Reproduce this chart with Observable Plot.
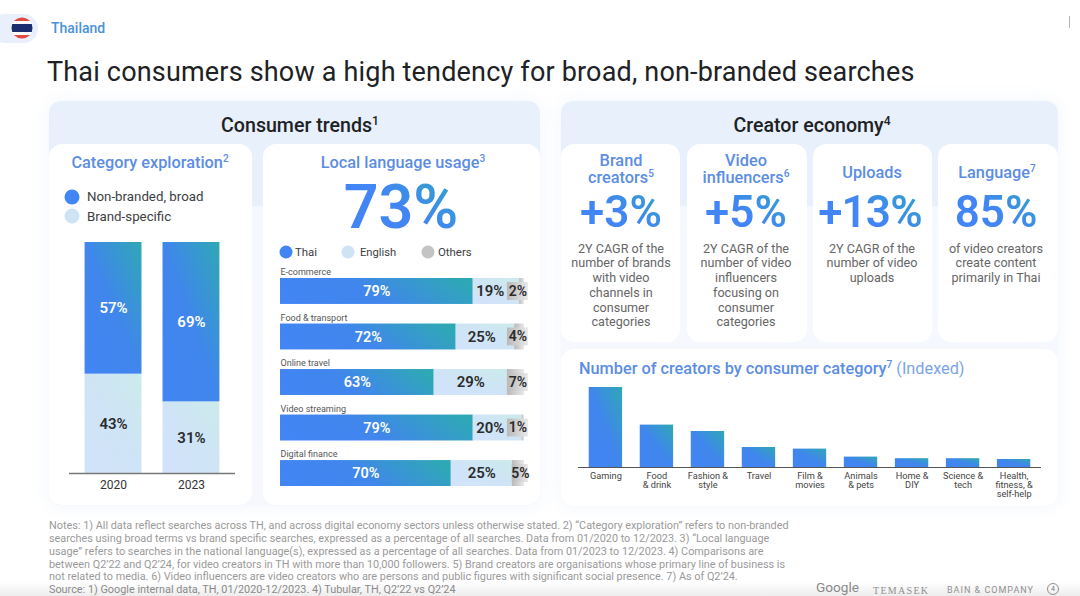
<!DOCTYPE html>
<html lang="en">
<head>
<meta charset="utf-8">
<script src="https://cdn.jsdelivr.net/npm/d3@7"></script>
<script src="https://cdn.jsdelivr.net/npm/@observablehq/plot@0.6"></script>
<style>
html,body{margin:0;padding:0;background:#fff;width:1080px;height:596px;overflow:hidden;font-family:Roboto,sans-serif;}
#page{position:relative;width:1080px;height:596px;overflow:hidden;}
.abs{position:absolute;}
.t{position:absolute;transform:translate(-50%,-50%);white-space:nowrap;text-align:center;}
.l{position:absolute;transform:translateY(-50%);white-space:nowrap;}
.panel{position:absolute;border-radius:12px;background:linear-gradient(#e8f0fc 0,#e8f0fc 105px,#f5f8fe 105px,#f6f8fe 100%);box-shadow:0 0 18px rgba(232,238,250,.6);}
.card{position:absolute;background:#fff;border-radius:13px;}
.h1{font-size:19.6px;font-weight:500;color:#202124;}
.h2{font-size:16.3px;font-weight:500;color:#5b8de3;line-height:17px;}
.big{font-weight:600;background:linear-gradient(35deg,#4285f4 0,#4285f4 50%,#2ea8c2 100%);-webkit-background-clip:text;background-clip:text;color:transparent;}
.body{font-size:12.6px;color:#666;line-height:14.8px;position:absolute;transform:translateX(-50%);text-align:center;white-space:nowrap;top:241.5px;}
sup{font-size:.62em;line-height:0;vertical-align:.55em;}
.dot{position:absolute;border-radius:50%;transform:translate(-50%,-50%);}
.leg{font-size:13.3px;color:#3c4043;}
.note{position:absolute;left:49px;font-size:10.85px;color:#9a9a9a;white-space:nowrap;transform:translateY(-50%);}
.chart{position:absolute;}
</style>
</head>
<body>
<div id="page">
  <svg class="abs" width="0" height="0" style="left:0;top:0">
    <defs>
      <linearGradient id="gBlue" x1="0" y1="1" x2="1" y2="0">
        <stop offset="0" stop-color="#4285f4"/><stop offset=".5" stop-color="#4086ec"/><stop offset="1" stop-color="#2fa8b6"/>
      </linearGradient>
      <linearGradient id="gBlueH" x1="0" y1=".6" x2="1" y2=".4">
        <stop offset="0" stop-color="#4285f4"/><stop offset=".45" stop-color="#4086ec"/><stop offset="1" stop-color="#2fa8b6"/>
      </linearGradient>
      <linearGradient id="gLight" x1="0" y1="1" x2="1" y2="0">
        <stop offset="0" stop-color="#d2e3fc"/><stop offset=".5" stop-color="#cfe4f6"/><stop offset="1" stop-color="#cbebec"/>
      </linearGradient>
      <linearGradient id="gGray" x1="0" y1="0" x2="1" y2="0">
        <stop offset="0" stop-color="#b9b9b9"/><stop offset="1" stop-color="#e9e9e9"/>
      </linearGradient>
    </defs>
  </svg>

  <div class="abs" style="left:-10px;top:14px;width:48px;height:29px;border-radius:15px;background:#e9f0fc"></div>
  <div class="dot" style="left:22px;top:28px;width:21px;height:21px;background:linear-gradient(#e2493f 0 17%,#fff 17% 33%,#1b2d6e 33% 67%,#fff 67% 83%,#e2493f 83%)"></div>
  <div class="l" style="left:51px;top:28px;font-size:14px;font-weight:500;color:#4a92d8">Thailand</div>
  <div class="abs" style="left:1069px;top:16px;width:1px;height:12px;background:#b5b5b5"></div>

  <div class="l" id="title" style="left:47px;top:72px;font-size:27px;letter-spacing:.18px;color:#202124">Thai consumers show a high tendency for broad, non-branded searches</div>

  <div class="panel" style="left:49px;top:101px;width:491px;height:405px"></div>
  <div class="panel" style="left:561px;top:101px;width:497px;height:405px"></div>

  <div class="t h1" style="left:300px;top:125px">Consumer trends<sup>1</sup></div>
  <div class="t h1" style="left:812px;top:125px">Creator economy<sup>4</sup></div>

  <div class="card" style="left:49px;top:144px;width:203px;height:361px"></div>
  <div class="card" style="left:263px;top:144px;width:277px;height:361px"></div>
  <div class="card" style="left:561px;top:144px;width:119px;height:198px"></div>
  <div class="card" style="left:687px;top:144px;width:120px;height:198px"></div>
  <div class="card" style="left:813px;top:144px;width:119px;height:198px"></div>
  <div class="card" style="left:938px;top:144px;width:120px;height:198px"></div>
  <div class="card" style="left:561px;top:349px;width:497px;height:157px"></div>

  <div class="t h2" style="left:150px;top:162px">Category exploration<sup>2</sup></div>
  <div class="dot" style="left:72px;top:197px;width:15px;height:15px;background:#4285f4"></div>
  <div class="l leg" style="left:87px;top:196px">Non-branded, broad</div>
  <div class="dot" style="left:72px;top:216px;width:15px;height:15px;background:#cfe3f6"></div>
  <div class="l leg" style="left:87px;top:216px">Brand-specific</div>

  <div class="t h2" style="left:403px;top:162px">Local language usage<sup>3</sup></div>
  <div class="t big" style="left:401px;top:207px;font-size:61px;line-height:66px">73%</div>
  <div class="dot" style="left:286px;top:252px;width:13px;height:13px;background:#4285f4"></div>
  <div class="l leg" style="left:295px;top:252px;font-size:11.4px">Thai</div>
  <div class="dot" style="left:348px;top:252px;width:13px;height:13px;background:#cfe3f6"></div>
  <div class="l leg" style="left:360px;top:252px;font-size:11.2px">English</div>
  <div class="dot" style="left:428px;top:252px;width:13px;height:13px;background:#c4c4c4"></div>
  <div class="l leg" style="left:438px;top:252px;font-size:11.4px">Others</div>

  <div class="t h2" style="left:621px;top:169px">Brand<br>creators<sup>5</sup></div>
  <div class="t big" style="left:621px;top:212px;font-size:44px;line-height:50px">+3%</div>
  <div class="body" style="left:621px">2Y CAGR of the<br>number of brands<br>with video<br>channels in<br>consumer<br>categories</div>

  <div class="t h2" style="left:746px;top:169px">Video<br>influencers<sup>6</sup></div>
  <div class="t big" style="left:746px;top:212px;font-size:44px;line-height:50px">+5%</div>
  <div class="body" style="left:746px">2Y CAGR of the<br>number of video<br>influencers<br>focusing on<br>consumer<br>categories</div>

  <div class="t h2" style="left:872px;top:172px">Uploads</div>
  <div class="t big" style="left:870px;top:212px;font-size:44px;line-height:50px;letter-spacing:-.8px">+13%</div>
  <div class="body" style="left:872px">2Y CAGR of the<br>number of video<br>uploads</div>

  <div class="t h2" style="left:997px;top:172px">Language<sup>7</sup></div>
  <div class="t big" style="left:996px;top:212px;font-size:44px;line-height:50px">85%</div>
  <div class="body" style="left:996px">of video creators<br>create content<br>primarily in Thai</div>

  <div class="l h2" style="left:579px;top:368px">Number of creators by consumer category<sup>7</sup> <span style="font-weight:400;color:#7ba4e8">(Indexed)</span></div>

  <div class="chart" id="c1" style="left:61px;top:230px"></div>
  <div class="chart" id="c2" style="left:270px;top:262px"></div>
  <div class="chart" id="c3" style="left:570px;top:380px"></div>

  <div class="abs" style="left:0;top:582px;width:1080px;height:14px;background:linear-gradient(rgba(238,238,238,0),#ededed)"></div>

  <div class="note" style="top:525px">Notes: 1) All data reflect searches across TH, and across digital economy sectors unless otherwise stated. 2) “Category exploration” refers to non-branded</div>
  <div class="note" style="top:538px">searches using broad terms vs brand specific searches, expressed as a percentage of all searches. Data from 01/2020 to 12/2023. 3) “Local language</div>
  <div class="note" style="top:551px">usage” refers to searches in the national language(s), expressed as a percentage of all searches. Data from 01/2023 to 12/2023. 4) Comparisons are</div>
  <div class="note" style="top:563.5px">between Q2’22 and Q2’24, for video creators in TH with more than 10,000 followers. 5) Brand creators are organisations whose primary line of business is</div>
  <div class="note" style="top:576px">not related to media. 6) Video influencers are video creators who are persons and public figures with significant social presence. 7) As of Q2’24.</div>
  <div class="note" style="top:589px;color:#8a8a8a">Source: 1) Google internal data, TH, 01/2020-12/2023. 4) Tubular, TH, Q2’22 vs Q2’24</div>

  <div class="l" style="left:816px;top:587px;font-size:13.6px;color:#8a8a8a">Google</div>
  <div class="l" style="left:873px;top:590px;font-size:10px;letter-spacing:1.3px;color:#8f8f8f;font-family:'Liberation Serif',serif">TEMASEK</div>
  <div class="l" style="left:947px;top:590px;font-size:9px;letter-spacing:1px;color:#8f8f8f">BAIN &amp; COMPANY</div>
  <div class="t" style="left:1053px;top:589px;font-size:7px;width:10px;height:10px;line-height:10px;border:1px solid #8f8f8f;border-radius:50%;color:#777">4</div>
</div>

<script>
// Category exploration
const years = ["2020", "2023"];
const nonBranded = [57, 69];
const brandSpecific = [43, 31];

// Local language usage
const languageCategories = ["E-commerce", "Food & transport", "Online travel", "Video streaming", "Digital finance"];
const thai = [79, 72, 63, 79, 70];
const english = [19, 25, 29, 20, 25];
const others = [2, 4, 7, 1, 5];

// Number of creators by consumer category (indexed)
const creatorCategories = ["Gaming", "Food\n& drink", "Fashion &\nstyle", "Travel", "Film &\nmovies", "Animals\n& pets", "Home &\nDIY", "Science &\ntech", "Health,\nfitness, &\nself-help"];
const creatorIndex = [100, 53, 45, 25, 23, 13, 11, 11, 10];

const font = {background: "transparent", fontFamily: "Roboto, sans-serif", overflow: "visible"};
const pct = v => v + "%";

// Stacked columns
const exploration = years.map((year, i) => ({year, brand: brandSpecific[i], non: nonBranded[i]}));
document.getElementById("c1").append(Plot.plot({
  width: 182, height: 270, marginLeft: 8, marginRight: 8, marginTop: 12, marginBottom: 27, style: font,
  x: {domain: years, paddingInner: 0.27, paddingOuter: 0.2, round: false, label: null},
  y: {domain: [0, 100], axis: null},
  marks: [
    Plot.barY(exploration, {x: "year", y1: 0, y2: "brand", fill: "url(#gLight)"}),
    Plot.barY(exploration, {x: "year", y1: "brand", y2: d => d.brand + d.non, fill: "url(#gBlue)"}),
    Plot.text(exploration, {x: "year", y: d => d.brand / 2, text: d => pct(d.brand), fill: "#2b2b2b", fontSize: 15, fontWeight: 600}),
    Plot.text(exploration, {x: "year", y: d => d.brand + d.non / 2, text: d => pct(d.non), fill: "white", fontSize: 15, fontWeight: 600}),
    Plot.ruleY([0], {stroke: "#777", strokeWidth: 1.6}),
    Plot.axisX({tickSize: 0, tickPadding: 7, fontSize: 12, fill: "#333", label: null})
  ]
}));

// Stacked rows
const language = languageCategories.map((cat, i) => ({cat, thai: thai[i], english: english[i], others: others[i]}));
const boxStart = d => d.cat === "Digital finance" ? 95 : 93;
document.getElementById("c2").append(Plot.plot({
  width: 270, height: 232, marginLeft: 10, marginRight: 16, marginTop: 16, marginBottom: 8, style: font,
  x: {domain: [0, 100], axis: null},
  y: {domain: languageCategories, paddingInner: 0.43, paddingOuter: 0, round: false, axis: null},
  marks: [
    Plot.barX(language, {y: "cat", x1: 0, x2: "thai", fill: "url(#gBlueH)"}),
    Plot.barX(language, {y: "cat", x1: "thai", x2: d => 100 - d.others, fill: "url(#gLight)"}),
    Plot.barX(language, {y: "cat", x1: d => 100 - d.others, x2: 100, fill: "url(#gGray)"}),
    Plot.barX(language, {y: "cat", x1: boxStart, x2: 101.6, insetTop: 4, insetBottom: 4, fill: "url(#gGray)"}),
    Plot.text(language, {y: "cat", x: 0, text: "cat", dy: -19, textAnchor: "start", fontSize: 9, fill: "#555"}),
    Plot.text(language, {y: "cat", x: d => d.thai / 2, text: d => pct(d.thai), fill: "white", fontSize: 14.5, fontWeight: 600}),
    Plot.text(language, {y: "cat", x: d => (d.thai + boxStart(d)) / 2, text: d => pct(d.english), fill: "#2b2b2b", fontSize: 15, fontWeight: 600}),
    Plot.text(language, {y: "cat", x: d => (boxStart(d) + 101.6) / 2, text: d => pct(d.others), fill: "#2b2b2b", fontSize: 14, fontWeight: 600})
  ]
}));

// Creators by category
const creators = creatorCategories.map((cat, i) => ({cat, value: creatorIndex[i]}));
document.getElementById("c3").append(Plot.plot({
  width: 480, height: 120, marginLeft: 8, marginRight: 9, marginTop: 7, marginBottom: 33, style: font,
  x: {domain: creatorCategories, paddingInner: 0.346, paddingOuter: 0.21, round: false, label: null},
  y: {domain: [0, 100], axis: null},
  marks: [
    Plot.barY(creators, {x: "cat", y: "value", fill: "url(#gBlue)"}),
    Plot.ruleY([0], {stroke: "#555", strokeWidth: 1.2}),
    Plot.axisX({tickSize: 0, tickPadding: 5, fontSize: 9.2, fill: "#444", label: null})
  ]
}));
</script>
</body>
</html>
